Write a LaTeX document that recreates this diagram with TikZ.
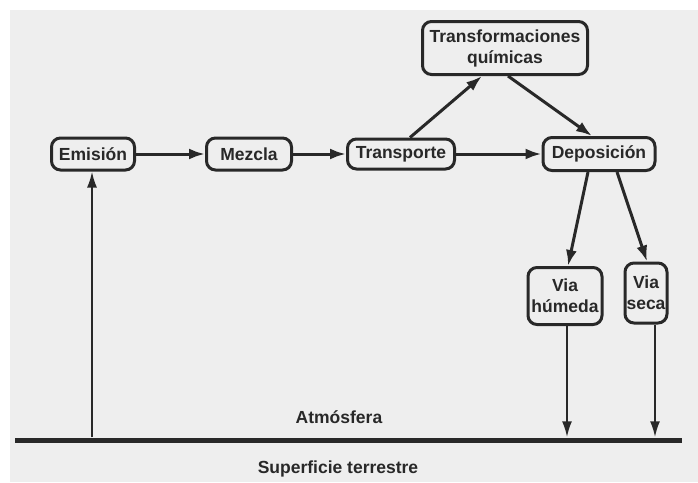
\documentclass[tikz,border=0pt]{standalone}
\usepackage{fontspec}
\setmainfont{Liberation Sans}
\usetikzlibrary{arrows.meta}
\definecolor{paper}{RGB}{238,238,238}
\definecolor{ink}{RGB}{40,40,40}
\tikzset{
  concept/.style={draw=ink, line width=3pt, rounded corners=9pt, fill=paper,
    text=ink, font=\fontsize{17.5}{21}\selectfont\bfseries, align=center,
    inner sep=1pt},
  flow/.style={draw=ink, line width=3pt, -{Latex[length=16pt,width=11pt]}},
  thinflow/.style={draw=ink, line width=2.2pt, -{Latex[length=16pt,width=10pt]}},
  caption/.style={text=ink, font=\fontsize{17.5}{21}\selectfont\bfseries},
}
\begin{document}
\begin{tikzpicture}[x=1pt,y=-1pt]
\useasboundingbox (0,0) rectangle (698,482);
\fill[paper] (10,10) rectangle (698,482);

% process chain
\node[concept, minimum width=83pt, minimum height=32pt] (emi) at (93,154) {Emisión};
\node[concept, minimum width=85pt, minimum height=32pt] (mez) at (249,154) {Mezcla};
\node[concept, minimum width=107pt, minimum height=30pt] (tra) at (401,154) {Transporte};
\node[concept, minimum width=112pt, minimum height=33pt] (dep) at (599,154) {Deposición};
\node[concept, minimum width=165pt, minimum height=53pt] (tq) at (505,48) {Transformaciones\\químicas};
\node[concept, minimum width=74pt, minimum height=57pt] (vh) at (565,296) {Via\\húmeda};
\node[concept, minimum width=42pt, minimum height=60pt] (vs) at (646,293) {Via\\seca};

% ground line and labels
\node[fill=ink, minimum width=667pt, minimum height=5pt, inner sep=0pt] (suelo) at (348.5,440) {};
\node[caption] (atm) at (339,417) {Atmósfera};
\node[caption] (sup) at (338,469) {Superficie terrestre};

% connectors
\draw[flow] (emi) -- (mez);
\draw[flow] (mez) -- (tra);
\draw[flow] (tra) -- (dep);
\draw[flow] ([xshift=9pt]tra.north) -- ([xshift=-23pt]tq.south);
\draw[flow] ([xshift=3pt]tq.south) -- ([xshift=-7pt]dep.north);
\draw[flow] ([xshift=-11pt]dep.south) -- ([xshift=3pt]vh.north);
\draw[flow] ([xshift=18pt]dep.south) -- ([xshift=1pt]vs.north);
\draw[thinflow] (suelo.north -| emi.south) ++(-1pt,0) coordinate (e0) -- (e0 |- emi.south);
\draw[thinflow] ([xshift=2pt]vh.south) -- ([xshift=2pt]suelo.north -| vh.south);
\draw[thinflow] ([xshift=9pt]vs.south) -- ([xshift=9pt]suelo.north -| vs.south);
\end{tikzpicture}
\end{document}
